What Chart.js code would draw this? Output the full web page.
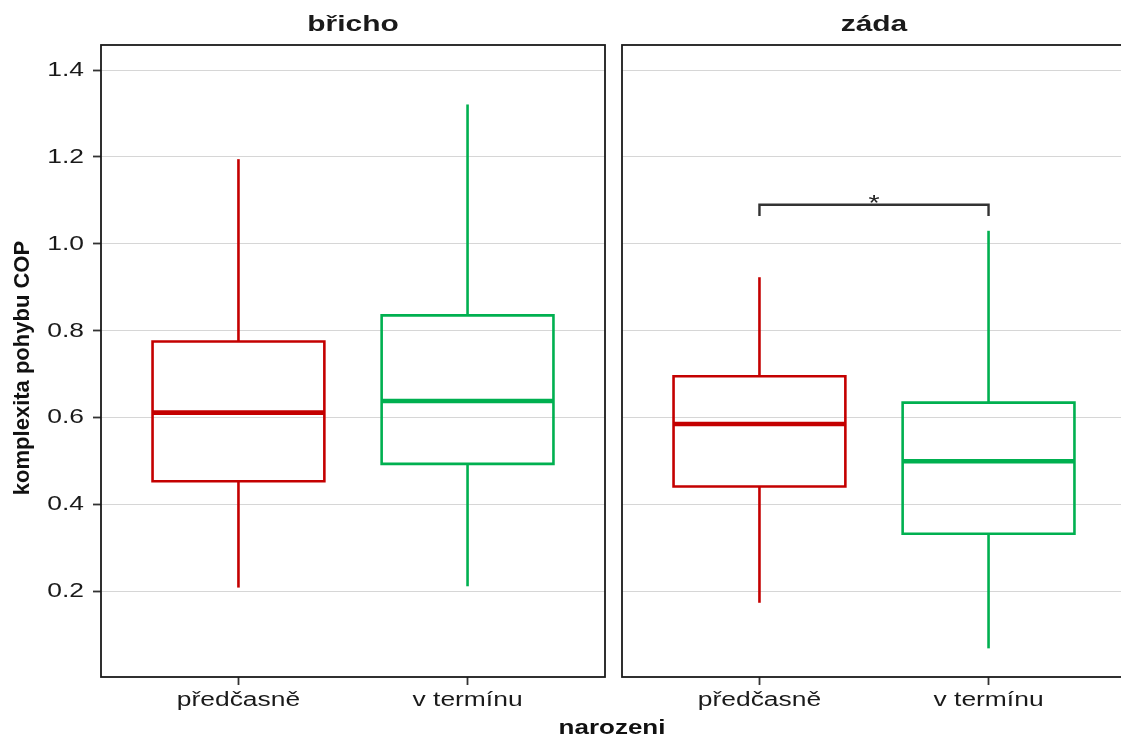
<!DOCTYPE html>
<html><head><meta charset="utf-8">
<script src="https://cdn.jsdelivr.net/npm/chart.js@4.4.0/dist/chart.umd.min.js"></script>
<style>
html,body{margin:0;padding:0;background:#fff;overflow:hidden;width:1121px;height:742px;}
canvas{position:absolute;top:0;left:0;}
</style></head><body>
<canvas id="c1" width="1121" height="742" style="width:1121px;height:742px"></canvas>
<canvas id="c2" width="1130" height="742" style="width:1130px;height:742px"></canvas>
<script>
// ---- data ----
const categories = ['předčasně', 'v termínu'];
const facetTitles = ['břicho', 'záda'];
const yTicks = [0.2, 0.4, 0.6, 0.8, 1.0, 1.2, 1.4];
const colors = ['#c40000', '#00b050'];

const bellyLow    = [0.208, 0.211];
const bellyQ1     = [0.453, 0.493];
const bellyMedian = [0.611, 0.638];
const bellyQ3     = [0.775, 0.835];
const bellyHigh   = [1.195, 1.321];

const backLow     = [0.173, 0.068];
const backQ1      = [0.441, 0.332];
const backMedian  = [0.585, 0.499];
const backQ3      = [0.695, 0.634];
const backHigh    = [0.923, 1.030];

const bracketGroups = [1, 2];
const bracketY = 1.09;
const bracketTickY = 1.064;
const bracketLabel = '*';

const xTitle = 'narozeni';
const yTitle = 'komplexita pohybu COP';

const Y_MIN = 0.002, Y_MAX = 1.458;
const HALF = 0.375;
const FONT = "'Liberation Sans', Arial, sans-serif";
const SX = 1.32;

function stretchText(ctx, text, x, y, font, align, baseline, sx) {
  ctx.save();
  ctx.translate(x, y);
  ctx.scale(sx, 1);
  ctx.font = font;
  ctx.textAlign = align;
  ctx.textBaseline = baseline;
  ctx.fillText(text, 0, 0);
  ctx.restore();
}

function boxDatasets(low, q1, med, q3, high) {
  const ds = [];
  categories.forEach((c, i) => {
    const x = i + 1;
    const col = colors[i];
    const base = {type: 'scatter', showLine: true, pointRadius: 0, borderColor: col, backgroundColor: col, fill: false, tension: 0};
    ds.push(Object.assign({}, base, {data: [{x: x, y: low[i]}, {x: x, y: q1[i]}], borderWidth: 2.6}));
    ds.push(Object.assign({}, base, {data: [{x: x, y: q3[i]}, {x: x, y: high[i]}], borderWidth: 2.6}));
    ds.push(Object.assign({}, base, {data: [
      {x: x - HALF, y: q1[i]}, {x: x + HALF, y: q1[i]}, {x: x + HALF, y: q3[i]},
      {x: x - HALF, y: q3[i]}, {x: x - HALF, y: q1[i]}], borderWidth: 2.6, borderCapStyle: 'square', borderJoinStyle: 'miter'}));
    ds.push(Object.assign({}, base, {data: [{x: x - HALF, y: med[i]}, {x: x + HALF, y: med[i]}], borderWidth: 4.6, borderCapStyle: 'butt'}));
  });
  return ds;
}

function makeChart(id, datasets, opts) {
  const overlay = {
    id: 'overlay_' + id,
    afterDraw(chart) {
      const ctx = chart.ctx, a = chart.chartArea;
      const xs = chart.scales.x, ys = chart.scales.y;
      ctx.save();
      ctx.strokeStyle = '#1a1a1a';
      ctx.lineWidth = 1.8;
      ctx.strokeRect(a.left, a.top, a.right - a.left, a.bottom - a.top);
      ctx.fillStyle = '#1a1a1a';
      // facet title
      stretchText(ctx, opts.title, (a.left + a.right) / 2, 31, "bold 22px " + FONT, 'center', 'alphabetic', 1.36);
      // x tick labels
      ctx.fillStyle = '#1a1a1a';
      xs.ticks.forEach(t => {
        stretchText(ctx, categories[t.value - 1], xs.getPixelForValue(t.value), 706, "20px " + FONT, 'center', 'alphabetic', SX);
      });
      if (opts.yLabels) {
        ys.ticks.forEach(t => {
          stretchText(ctx, t.value.toFixed(1), 84, ys.getPixelForValue(t.value) + 0.5, "20px " + FONT, 'right', 'middle', SX);
        });
        ctx.save();
        ctx.translate(23, 368);
        ctx.rotate(-Math.PI / 2);
        ctx.font = "bold 22px " + FONT;
        ctx.textAlign = 'center';
        ctx.textBaseline = 'middle';
        ctx.fillStyle = '#111';
        ctx.fillText(yTitle, 0, 0);
        ctx.restore();
      }
      if (opts.extra) opts.extra(chart, ctx);
      ctx.restore();
    }
  };
  return new Chart(document.getElementById(id), {
    type: 'scatter',
    data: {datasets: datasets},
    options: {
      responsive: false, animation: false,
      layout: {padding: opts.padding},
      plugins: {legend: {display: false}, tooltip: {enabled: false}},
      scales: {
        x: {
          type: 'linear', min: 0.4, max: 2.6,
          afterBuildTicks: s => { s.ticks = [{value: 1}, {value: 2}]; },
          afterFit: s => { s.height = 65; },
          ticks: {display: false},
          grid: {display: true, drawOnChartArea: false, drawTicks: true, tickLength: 8, tickColor: '#333', tickWidth: 1.8},
          border: {display: false}
        },
        y: {
          type: 'linear', min: Y_MIN, max: Y_MAX,
          afterBuildTicks: s => { s.ticks = yTicks.map(v => ({value: v})); },
          afterFit: s => { s.width = opts.yWidth; },
          ticks: {display: false},
          grid: {color: '#d6d6d6', lineWidth: 1, drawTicks: opts.yLabels, tickLength: 8, tickColor: '#333', tickWidth: 1.8},
          border: {display: false}
        }
      }
    },
    plugins: [overlay]
  });
}

makeChart('c1', boxDatasets(bellyLow, bellyQ1, bellyMedian, bellyQ3, bellyHigh), {
  title: facetTitles[0], padding: {left: 0, top: 45, right: 516, bottom: 0}, yWidth: 101, yLabels: true,
  extra: (chart, ctx) => {
    ctx.fillStyle = '#111';
    stretchText(ctx, xTitle, 612, 734, "bold 20px " + FONT, 'center', 'alphabetic', 1.3);
  }
});

const backSets = boxDatasets(backLow, backQ1, backMedian, backQ3, backHigh);
backSets.push({type: 'scatter', showLine: true, pointRadius: 0, borderColor: '#333', borderWidth: 2.4, borderCapStyle: 'butt', borderJoinStyle: 'miter', fill: false,
  data: [{x: bracketGroups[0], y: bracketTickY}, {x: bracketGroups[0], y: bracketY}, {x: bracketGroups[1], y: bracketY}, {x: bracketGroups[1], y: bracketTickY}]});

makeChart('c2', backSets, {
  title: facetTitles[1], padding: {left: 0, top: 45, right: 4, bottom: 0}, yWidth: 622, yLabels: false,
  extra: (chart, ctx) => {
    const xs = chart.scales.x, ys = chart.scales.y;
    const cx = (xs.getPixelForValue(bracketGroups[0]) + xs.getPixelForValue(bracketGroups[1])) / 2;
    ctx.fillStyle = '#222';
    stretchText(ctx, bracketLabel, cx, ys.getPixelForValue(bracketY) + 5, "22px " + FONT, 'center', 'alphabetic', 1.3);
  }
});
</script>
</body></html>
